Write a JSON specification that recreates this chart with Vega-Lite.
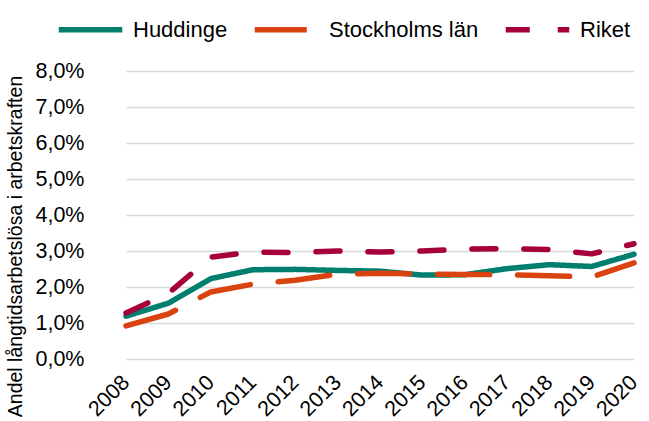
{
  "$schema": "https://vega.github.io/schema/vega-lite/v6.json",
  "autosize": "none",
  "width": 544,
  "height": 288,
  "padding": {"left": 105, "top": 71, "right": 0, "bottom": 62},
  "background": "white",
  "config": {
    "font": "Liberation Sans",
    "view": {"stroke": null},
    "axis": {"labelFont": "Liberation Sans", "titleFont": "Liberation Sans", "labelColor": "#000", "titleColor": "#000"},
    "legend": {"labelFont": "Liberation Sans", "labelColor": "#000"}
  },
  "data": {
    "values": [
      {"year": "2008", "serie": "Huddinge", "v": 0.0119},
      {"year": "2009", "serie": "Huddinge", "v": 0.0155},
      {"year": "2010", "serie": "Huddinge", "v": 0.0223},
      {"year": "2011", "serie": "Huddinge", "v": 0.0248},
      {"year": "2012", "serie": "Huddinge", "v": 0.0249},
      {"year": "2013", "serie": "Huddinge", "v": 0.0246},
      {"year": "2014", "serie": "Huddinge", "v": 0.0244},
      {"year": "2015", "serie": "Huddinge", "v": 0.0233},
      {"year": "2016", "serie": "Huddinge", "v": 0.0234},
      {"year": "2017", "serie": "Huddinge", "v": 0.0251},
      {"year": "2018", "serie": "Huddinge", "v": 0.0262},
      {"year": "2019", "serie": "Huddinge", "v": 0.0257},
      {"year": "2020", "serie": "Huddinge", "v": 0.0291},
      {"year": "2008", "serie": "Stockholms län", "v": 0.0092},
      {"year": "2009", "serie": "Stockholms län", "v": 0.0125},
      {"year": "2010", "serie": "Stockholms län", "v": 0.0186},
      {"year": "2011", "serie": "Stockholms län", "v": 0.0208},
      {"year": "2012", "serie": "Stockholms län", "v": 0.0219},
      {"year": "2013", "serie": "Stockholms län", "v": 0.0236},
      {"year": "2014", "serie": "Stockholms län", "v": 0.0238},
      {"year": "2015", "serie": "Stockholms län", "v": 0.0236},
      {"year": "2016", "serie": "Stockholms län", "v": 0.0235},
      {"year": "2017", "serie": "Stockholms län", "v": 0.0234},
      {"year": "2018", "serie": "Stockholms län", "v": 0.0231},
      {"year": "2019", "serie": "Stockholms län", "v": 0.0228},
      {"year": "2020", "serie": "Stockholms län", "v": 0.0267},
      {"year": "2008", "serie": "Riket", "v": 0.0128},
      {"year": "2009", "serie": "Riket", "v": 0.0182},
      {"year": "2010", "serie": "Riket", "v": 0.0283},
      {"year": "2011", "serie": "Riket", "v": 0.0297},
      {"year": "2012", "serie": "Riket", "v": 0.0296},
      {"year": "2013", "serie": "Riket", "v": 0.0300},
      {"year": "2014", "serie": "Riket", "v": 0.0297},
      {"year": "2015", "serie": "Riket", "v": 0.0300},
      {"year": "2016", "serie": "Riket", "v": 0.0305},
      {"year": "2017", "serie": "Riket", "v": 0.0307},
      {"year": "2018", "serie": "Riket", "v": 0.0304},
      {"year": "2019", "serie": "Riket", "v": 0.0292},
      {"year": "2020", "serie": "Riket", "v": 0.0320}
    ]
  },
  "mark": {"type": "line", "strokeWidth": 5.5, "strokeCap": "round", "strokeJoin": "round"},
  "encoding": {
    "x": {
      "field": "year", "type": "ordinal",
      "scale": {"range": [21, 529], "padding": 0},
      "axis": {
        "title": null, "domain": false, "ticks": false, "tickSize": 0, "grid": false,
        "labelAngle": -45, "labelAlign": "right", "labelBaseline": "middle",
        "labelPadding": 20, "labelFontSize": 21.5
      }
    },
    "y": {
      "field": "v", "type": "quantitative",
      "scale": {"domain": [0, 0.08], "nice": false},
      "axis": {
        "title": "Andel långtidsarbetslösa i arbetskraften",
        "titleFontSize": 19.5, "titleFontWeight": "normal",
        "titleAngle": -90, "titleAlign": "center", "titleBaseline": "middle",
        "titleX": -90, "titleY": 175,
        "values": [0, 0.01, 0.02, 0.03, 0.04, 0.05, 0.06, 0.07, 0.08],
        "labelExpr": "replace(format(datum.value, '.1%'), '.', ',')",
        "labelFontSize": 21.5, "labelPadding": 21,
        "domain": false, "ticks": false, "tickSize": 0,
        "grid": true, "gridColor": "#d9d9d9", "gridWidth": 1.5
      }
    },
    "color": {
      "field": "serie", "type": "nominal",
      "scale": {"domain": ["Huddinge", "Stockholms län", "Riket"], "range": ["#007E6E", "#D9430F", "#A6003C"]},
      "legend": {
        "title": null, "orient": "none", "direction": "horizontal",
        "legendX": -49, "legendY": -76,
        "symbolType": "stroke", "symbolSize": 4032, "symbolStrokeWidth": 5.5,
        "labelFontSize": 22, "labelOffset": 8, "columnPadding": 15, "padding": 0
      }
    },
    "strokeDash": {
      "field": "serie", "type": "nominal",
      "scale": {"domain": ["Huddinge", "Stockholms län", "Riket"], "range": [[1, 0], [52, 28], [24, 28]]},
      "legend": null
    }
  }
}
